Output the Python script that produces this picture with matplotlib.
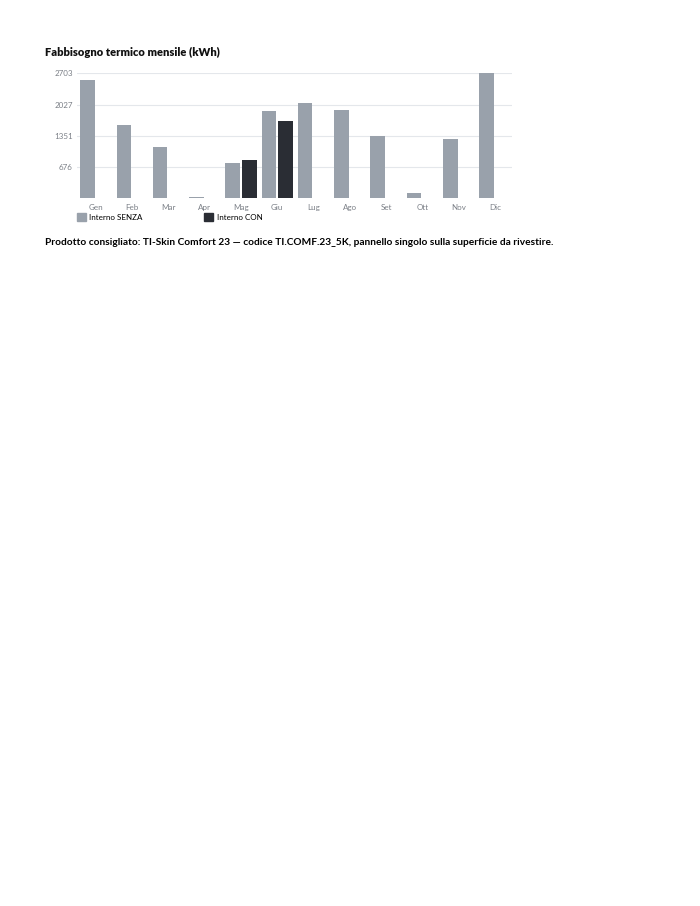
import matplotlib.pyplot as plt
import numpy as np
from matplotlib.patches import Patch

plt.rcParams['font.family'] = ['Lato', 'DejaVu Sans']

# --- data ---
months = ["Gen", "Feb", "Mar", "Apr", "Mag", "Giu", "Lug", "Ago", "Set", "Ott", "Nov", "Dic"]
senza = [2551, 1578, 1103, 20, 770, 1888, 2060, 1909, 1345, 121, 1276, 2703]
con = [0, 0, 0, 0, 835, 1665, 0, 0, 0, 0, 0, 15]
yticks = [676, 1351, 2027, 2703]

GREY = "#99a1ab"
DARK = "#2a2d34"
GRID = "#e4e7eb"
TICK = "#7a7f86"

fig = plt.figure(figsize=(7, 9.06), dpi=100)
ax = fig.add_axes([0.11, 0.7811, 0.6214, 0.138])

x = np.arange(len(months))
w = 0.40
off = 0.23
ax.bar(x - off, senza, width=w, color=GREY, zorder=2)
ax.bar(x + off, con, width=w, color=DARK, zorder=2)

ax.set_xlim(-0.52, 11.47)
ax.set_ylim(0, 2703)
ax.set_yticks(yticks)
ax.set_yticklabels([str(v) for v in yticks])
ax.set_xticks(x)
ax.set_xticklabels(months)
ax.tick_params(axis="both", length=0, labelsize=5.8, labelcolor=TICK)
ax.tick_params(axis="y", pad=3)
ax.tick_params(axis="x", pad=4)
ax.grid(axis="y", color=GRID, linewidth=0.8, zorder=0)
for s in ax.spines.values():
    s.set_visible(False)

handles = [Patch(color=GREY, label="Interno SENZA"), Patch(color=DARK, label="Interno CON")]
ax.legend(handles=handles, ncol=2, loc="upper left", bbox_to_anchor=(0.0, -0.12),
          frameon=False, fontsize=5.8, handlelength=1.1, handleheight=1.1,
          handletextpad=0.45, columnspacing=7.6, borderpad=0, borderaxespad=0)

fig.text(45 / 700, 1 - 52 / 906, "Fabbisogno termico mensile (kWh)",
         fontsize=8.0, fontweight="heavy", color="#111111", va="center", ha="left")
fig.text(45 / 700, 1 - 243 / 906,
         "Prodotto consigliato: TI-Skin Comfort 23 \u2014 codice TI.COMF.23_5K, pannello singolo sulla superficie da rivestire.",
         fontsize=7.3, fontweight="bold", color="#000000", va="center", ha="left")

fig.savefig("out.png", dpi=100)
